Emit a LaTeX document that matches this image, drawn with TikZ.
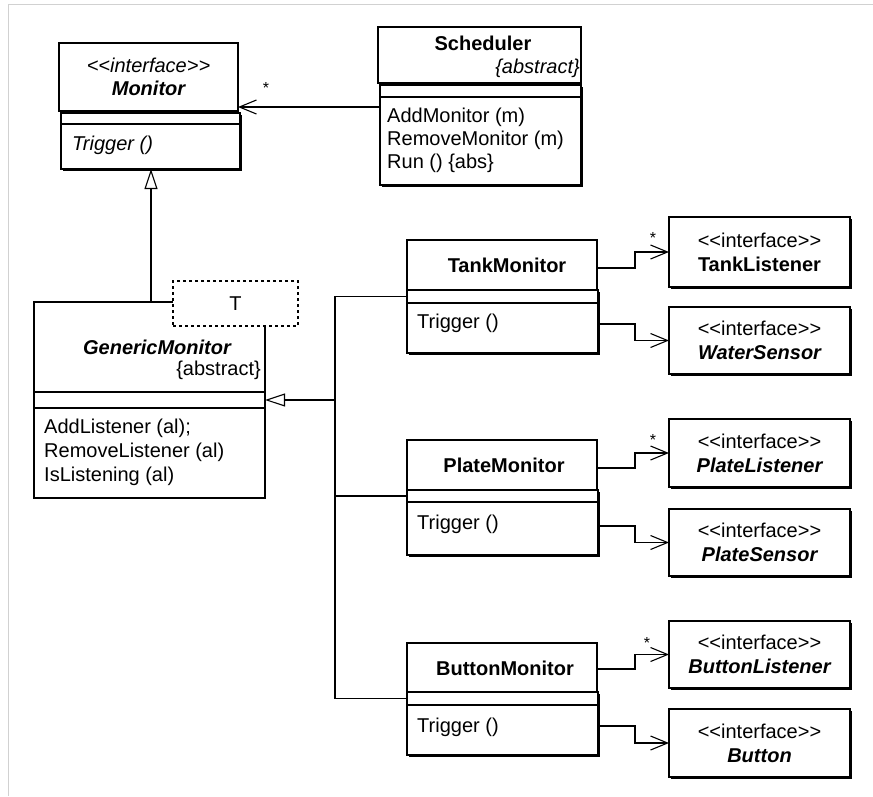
\documentclass[tikz,border=0pt]{standalone}
\usepackage{fontspec}
\newfontfamily\umlfont{Liberation Sans}
\usetikzlibrary{arrows.meta,shadows}
\newcommand\usz{\umlfont\fontsize{20}{23}\selectfont}
\newcommand\stereo{<\kern0pt<interface>\kern0pt>}

\tikzset{
  box/.style={draw, line width=1.1pt, fill=white, inner sep=0pt, outer sep=0pt,
    anchor=north west, font=\usz, align=center},
  shade/.style={general shadow={fill=black, shadow xshift=1.6pt, shadow yshift=-1.6pt}},
  t/.style={inner sep=0pt, font=\usz},
  ops/.style={inner sep=0pt, anchor=west, align=left},
  link/.style={line width=1.1pt},
  dep/.style={line width=1.1pt, -{Straight Barb[length=17pt, width=14pt, line width=1.1pt]}},
  gen/.style={line width=1.1pt, -{Triangle[open, length=20pt, width=13pt, line width=1.1pt, fill=white]}},
  mult/.style={inner sep=0pt, font=\umlfont\fontsize{16}{16}\selectfont},
}

\begin{document}
\begin{tikzpicture}[x=1pt, y=-1pt]
\useasboundingbox (0,0) rectangle (873,796);
\fill[white] (0,0) rectangle (873,796);
% window frame
\draw[black!18, line width=1.6pt] (8.5,796) -- (8.5,4.5) -- (873,4.5);

% ---- Monitor (interface)
\node[box, minimum width=179pt, minimum height=68pt] (monH) at (59,43)
  {{\itshape\stereo}\\{\bfseries\itshape Monitor}};
\node[box, shade, minimum width=179pt, minimum height=11pt] (monA) at (61,113) {};
\node[box, shade, minimum width=179pt, minimum height=45pt] (monO) at (61,124) {};
\node[ops, font=\usz\itshape] (monT) at (72,145) {Trigger ()};

% ---- Scheduler
\node[box, minimum width=203pt, minimum height=56pt] (schH) at (378,27) {};
\node[t, font=\usz\bfseries] (schN) at (483,43) {Scheduler};
\node[t, font=\usz\itshape, anchor=east] (schK) at (580,68) {\{abstract\}};
\node[box, shade, minimum width=201pt, minimum height=12pt] (schA) at (380,85) {};
\node[box, shade, minimum width=201pt, minimum height=88pt] (schO) at (380,97) {};
\node[ops, font=\usz] (schT) at (387,140) {AddMonitor (m)\\RemoveMonitor (m)\\Run () \{abs\}};

% ---- GenericMonitor
\node[box, minimum width=231pt, minimum height=90pt] (gmH) at (34,302) {};
\node[t, font=\usz\bfseries\itshape] (gmN) at (157,347) {GenericMonitor};
\node[t, anchor=east] (gmK) at (261,370) {\{abstract\}};
\node[box, minimum width=231pt, minimum height=16pt] (gmA) at (34,392) {};
\node[box, minimum width=231pt, minimum height=90pt] (gmO) at (34,408) {};
\node[ops, font=\umlfont\fontsize{20}{24}\selectfont] (gmT) at (44,452)
  {AddListener (al);\\RemoveListener (al)\\IsListening (al)};
\node[box, dash pattern=on 3pt off 3pt, minimum width=125pt, minimum height=45pt] (tpar) at (173,281) {T};

% ---- TankMonitor
\node[box, minimum width=190pt, minimum height=50pt] (tmH) at (407,240) {};
\node[t, font=\usz\bfseries] (tmN) at (507,265) {TankMonitor};
\node[box, shade, minimum width=191pt, minimum height=13pt] (tmA) at (407,290) {};
\node[box, shade, minimum width=191pt, minimum height=50pt] (tmO) at (407,303) {};
\node[ops, font=\usz] (tmT) at (417,323) {Trigger ()};

% ---- PlateMonitor
\node[box, minimum width=190pt, minimum height=50pt] (pmH) at (407,440) {};
\node[t, font=\usz\bfseries] (pmN) at (504,465) {PlateMonitor};
\node[box, shade, minimum width=191pt, minimum height=12pt] (pmA) at (407,490) {};
\node[box, shade, minimum width=191pt, minimum height=53pt] (pmO) at (407,502) {};
\node[ops, font=\usz] (pmT) at (417,524) {Trigger ()};

% ---- ButtonMonitor
\node[box, minimum width=190pt, minimum height=49pt] (bmH) at (407,643) {};
\node[t, font=\usz\bfseries] (bmN) at (505,668) {ButtonMonitor};
\node[box, shade, minimum width=191pt, minimum height=13pt] (bmA) at (407,692) {};
\node[box, shade, minimum width=191pt, minimum height=50pt] (bmO) at (407,705) {};
\node[ops, font=\usz] (bmT) at (417,727) {Trigger ()};

% ---- interfaces on the right
\node[box, shade, minimum width=181pt, minimum height=70pt] (tl) at (669,217)
  {\stereo\\[1pt]{\bfseries TankListener}};
\node[box, shade, minimum width=181pt, minimum height=67pt] (ws) at (669,307)
  {\stereo\\[1pt]{\bfseries\itshape WaterSensor}};
\node[box, shade, minimum width=181pt, minimum height=68pt] (pl) at (669,419)
  {\stereo\\[1pt]{\bfseries\itshape PlateListener}};
\node[box, shade, minimum width=181pt, minimum height=67pt] (ps) at (669,509)
  {\stereo\\[1pt]{\bfseries\itshape PlateSensor}};
\node[box, shade, minimum width=181pt, minimum height=67pt] (bl) at (669,621)
  {\stereo\\[1pt]{\bfseries\itshape ButtonListener}};
\node[box, shade, minimum width=181pt, minimum height=68pt] (bt) at (669,709)
  {\stereo\\[1pt]{\bfseries\itshape Button}};

% ---- associations and dependencies
\draw[dep] ([yshift=-10pt]schO.north west) -- ([yshift=-10pt]schO.north west -| monH.east);
\node[mult] (m0) at (266,88) {*};

\draw[dep] ([yshift=-3pt]tmH.east) -- ++(38,0) |- (tl.west);
\node[mult] (m1) at (653,238) {*};
\draw[dep] ([yshift=4pt]tmO.east) -- ++(37,0) |- (ws.west);

\draw[dep] ([yshift=-3pt]pmH.east) -- ++(38,0) |- (pl.west);
\node[mult] (m2) at (653,440) {*};
\draw[dep] ([yshift=2.5pt]pmO.east) -- ++(37,0) |- (ps.west);

\draw[dep] ([yshift=-1.5pt]bmH.east) -- ++(38,0) |- (bl.west);
\node[mult] (m3) at (647,643) {*};
\draw[dep] ([yshift=4pt]bmO.east) -- ++(37,0) |- (bt.west);

% ---- generalisations
\draw[gen] ([xshift=1.5pt]gmH.north) -- ([xshift=1.5pt]gmH.north |- monO.south);
\coordinate (J) at (335,400);
\draw[gen] (J) -- (gmA.east);
\draw[link] (tmA.west) -| (J) |- (bmA.west);
\draw[link] (pmA.west) -- (pmA.west -| J);
\end{tikzpicture}
\end{document}
